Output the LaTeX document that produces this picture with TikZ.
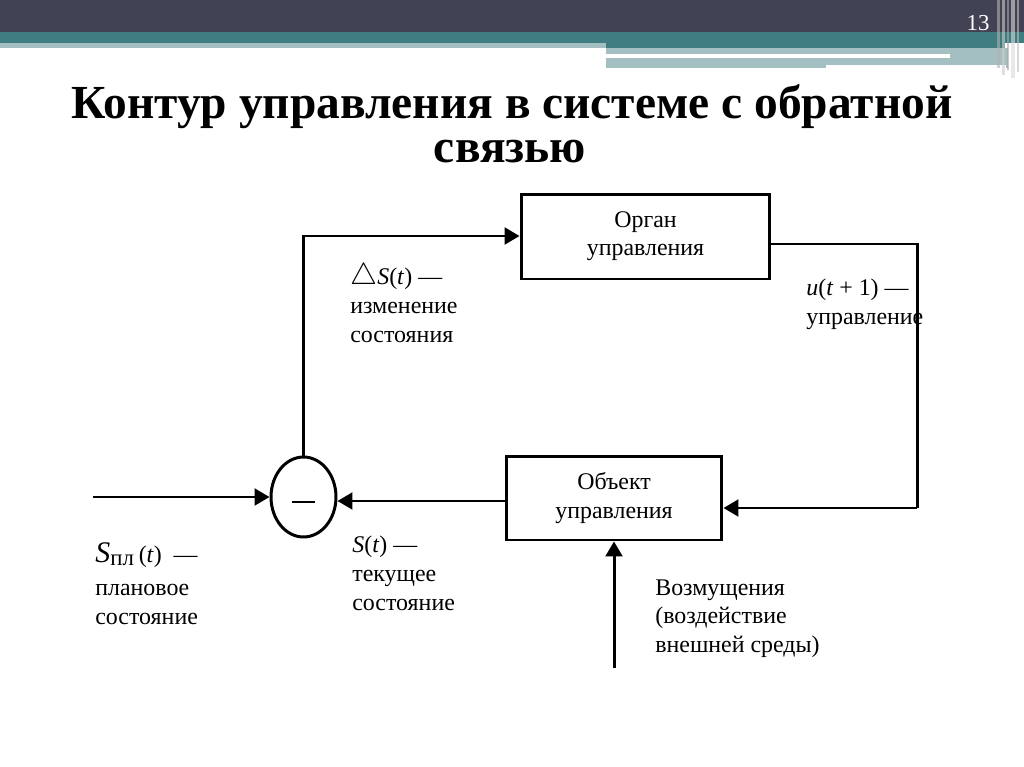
\documentclass[tikz,border=0pt]{standalone}
\usepackage{fontspec}
\setmainfont{Liberation Serif}
\usetikzlibrary{shapes.geometric,arrows.meta}
\definecolor{hdark}{HTML}{414254}
\definecolor{hteal}{HTML}{3F7D80}
\definecolor{hlight}{HTML}{A4BFC1}
\begin{document}
\begin{tikzpicture}[x=0.02cm,y=-0.02cm,
  wire/.style={line width=1.7pt},
  arr/.style={wire,-{Triangle[length=8.5pt,width=9.5pt]}},
  blk/.style={draw,line width=1.7pt,align=center,inner sep=0pt,
    font=\fontsize{13.6}{16}\selectfont},
  lbl/.style={align=left,anchor=north west,inner sep=0pt,
    font=\fontsize{13.6}{16.4}\selectfont},
  ttl/.style={inner sep=0pt,anchor=base,font=\fontsize{27}{30}\selectfont\bfseries}]
\useasboundingbox (0,0) rectangle (1024,767);
\fill[white] (0,0) rectangle (1024,767);
% header
\fill[hdark] (0,0) rectangle (1024,32);
\fill[hteal] (0,32) rectangle (1024,43);
\fill[hlight] (0,43) rectangle (606,48.5);
\fill[hteal] (606,43) rectangle (1005,48.5);
\fill[hlight] (606,48.5) rectangle (1008,68);
\fill[white] (606,53.7) rectangle (950,57.7);
\fill[white] (826,65) rectangle (1006,68);
\fill[gray!60,opacity=0.6] (997,0) rectangle (1000,68);
\fill[gray!40,opacity=0.6] (1002,0) rectangle (1005,75);
\fill[gray!70,opacity=0.6] (1007,0) rectangle (1009,70);
\fill[gray!30,opacity=0.6] (1011,0) rectangle (1015,78);
\fill[gray!50,opacity=0.6] (1017,0) rectangle (1019,72);
\node[text=white,inner sep=0pt,font=\fontsize{13}{14}\selectfont] (pg) at (978,23) {13};
% title
\node[ttl] (t1) at (512,118) {Контур управления в системе с обратной};
\node[ttl] (t2) at (510,162) {связью};
% blocks
\node[blk,minimum width=4.98cm,minimum height=1.7cm] (organ) at (645.5,236.5) {Орган\\управления};
\node[blk,minimum width=4.32cm,minimum height=1.68cm] (obj) at (614,498) {Объект\\управления};
\node[draw,ellipse,line width=1.7pt,minimum width=1.3cm,minimum height=1.6cm,inner sep=0pt] (sum) at (303.5,497) {};
\draw[line width=1.7pt] (292,502) -- (315,502);
% connectors
\coordinate (in) at (93,497);
\coordinate (dist) at (614,668);
\coordinate (c1) at (303.5,236);
\coordinate (c2) at (917,244);
\coordinate (c3) at (917,508);
\draw[arr] (in) -- (sum.west);
\draw[arr] (sum.north) -- (c1) -- (organ.west |- c1);
\draw[wire] (organ.east |- c2) -- (c2) -- (c3);
\draw[arr] (c3) -- (obj.east |- c3);
\draw[arr] (obj.west |- 0,501) -- (sum.east |- 0,501);
\draw[arr] (dist) -- (obj.south);
% labels
\node[lbl] (ds) at (350,263) {{\fontsize{19}{19}\selectfont$\bigtriangleup$}\textit{S}(\textit{t}) —\\изменение\\состояния};
\node[lbl] (ut) at (806,279) {\textit{u}(\textit{t} + 1) —\\управление};
\node[lbl] (spl) at (95,542) {{\fontsize{17}{17}\selectfont\textit{S}}\textsubscript{\fontsize{13}{13}\selectfont пл}\,(\textit{t})\ \ —};
\node[lbl] (spl2) at (95,584) {плановое\\состояние};
\node[lbl] (st) at (352,536) {\textit{S}(\textit{t}) —\\текущее\\состояние};
\node[lbl] (vz) at (655,579) {Возмущения\\(воздействие\\внешней среды)};
\end{tikzpicture}
\end{document}
